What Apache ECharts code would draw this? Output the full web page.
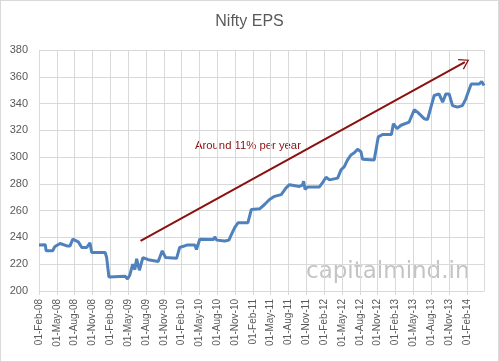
<!DOCTYPE html>
<html>
<head>
<meta charset="utf-8">
<script src="https://cdn.jsdelivr.net/npm/echarts@6/dist/echarts.min.js"></script>
<style>
  html, body { margin: 0; padding: 0; background: #fff; }
  #chart { width: 499px; height: 362px; box-sizing: border-box; border: 1px solid #d9d9d9; }
</style>
</head>
<body>
<div id="chart"></div>
<script>
// ---- data ----
const dates = [
  '2008-02-01','2008-03-03','2008-03-07','2008-04-10','2008-04-20','2008-05-18','2008-06-22','2008-07-08',
  '2008-07-22','2008-08-20','2008-09-07','2008-10-02','2008-10-19','2008-10-28','2009-01-05','2009-01-13',
  '2009-01-25','2009-04-16','2009-04-28','2009-05-10','2009-05-25','2009-06-05','2009-06-14','2009-06-28',
  '2009-07-16','2009-08-13','2009-10-03','2009-10-12','2009-10-24','2009-11-10','2010-01-06','2010-01-22',
  '2010-02-26','2010-04-08','2010-04-16','2010-05-03','2010-07-13','2010-07-19','2010-07-29','2010-09-09',
  '2010-09-30','2010-10-09','2010-10-30','2010-11-16','2011-01-06','2011-01-24','2011-03-05','2011-03-31',
  '2011-04-25','2011-05-21','2011-06-24','2011-07-19','2011-08-06','2011-09-26','2011-10-11','2011-10-18',
  '2011-10-25','2011-11-08','2012-01-07','2012-01-24','2012-02-10','2012-02-27','2012-04-09','2012-04-26',
  '2012-05-13','2012-05-30','2012-06-16','2012-07-03','2012-07-20','2012-08-07','2012-08-15','2012-10-14',
  '2012-10-23','2012-11-04','2012-11-26','2013-01-11','2013-01-21','2013-02-08','2013-02-14','2013-02-27',
  '2013-03-07','2013-04-10','2013-05-06','2013-05-23','2013-06-26','2013-07-13','2013-07-31','2013-08-17',
  '2013-09-11','2013-09-29','2013-10-16','2013-11-02','2013-11-19','2013-12-14','2014-01-09','2014-01-27',
  '2014-02-13','2014-02-22','2014-04-04','2014-04-16','2014-04-28'
];
const eps = [
  234.3,234.5,230.0,230.0,233.0,235.5,233.7,233.7,
  238.7,236.7,232.5,232.5,236.0,228.8,228.8,225.0,
  210.4,211.0,209.0,212.0,220.0,216.0,224.0,215.5,
  225.0,223.4,222.0,222.0,230.0,225.0,224.4,232.5,
  234.3,234.3,231.0,238.7,238.5,240.5,238.0,237.4,
  238.0,241.0,247.3,251.0,251.0,260.9,261.4,264.6,
  268.3,270.7,272.0,277.0,279.4,278.1,279.0,282.0,
  276.0,277.7,277.7,281.0,285.0,283.0,284.3,290.5,
  292.9,297.9,301.6,303.3,305.8,304.0,298.4,297.9,
  305.3,315.1,316.9,316.9,325.0,321.3,320.0,323.8,
  322.5,326.2,335.4,333.6,328.7,328.0,337.3,346.0,
  347.2,341.0,347.2,347.2,338.5,337.3,338.5,343.5,
  350.9,354.6,354.6,356.5,353.4
];
const yTicks = { min: 200, max: 380, step: 20 };
const monthNames = ['Jan','Feb','Mar','Apr','May','Jun','Jul','Aug','Sep','Oct','Nov','Dec'];
const arrowFrom = ['2009-07-04', 237.4];
const arrowTo = ['2014-01-22', 371.0];
const annotationText = 'Around 11% per year';
const titleText = 'Nifty EPS';
const watermarkText = 'capitalmind.in';

// months since 01-Feb-2008 (fractional)
function toMonthIndex(s) {
  const [y, m, d] = s.split('-').map(Number);
  const dim = new Date(y, m, 0).getDate();
  return (y - 2008) * 12 + (m - 2) + (d - 1) / dim;
}
function monthLabel(v) {
  const idx = Math.round(v);
  const abs = idx + 1; // months since Jan 2008
  const year = 2008 + Math.floor(abs / 12);
  const mon = abs % 12;
  return '01-' + monthNames[mon] + '-' + String(year % 100).padStart(2, '0');
}

const seriesData = dates.map((d, i) => [toMonthIndex(d), eps[i]]);
const xMax = toMonthIndex(dates[dates.length - 1]);

const chart = echarts.init(document.getElementById('chart'), null, { renderer: 'canvas' });
const gridCol = '#d9d9d9';
const txtCol = '#595959';
const font = 'Liberation Sans, Arial, sans-serif';

chart.setOption({
  animation: false,
  title: {
    text: titleText, left: 'center', top: 8,
    textStyle: { fontFamily: font, fontSize: 16, fontWeight: 'normal', color: txtCol }
  },
  grid: { left: 38, right: 14, top: 49, bottom: 70, containLabel: false },
  xAxis: {
    type: 'value', min: 0, max: xMax, interval: 3,
    axisLine: { show: true, lineStyle: { color: gridCol } },
    axisTick: { show: true, length: 4, lineStyle: { color: gridCol } },
    splitLine: { show: true, lineStyle: { color: gridCol, width: 1 } },
    axisLabel: {
      rotate: 90, margin: 8, showMaxLabel: false,
      fontFamily: font, fontSize: 10, color: txtCol,
      formatter: monthLabel
    }
  },
  yAxis: {
    type: 'value', min: yTicks.min, max: yTicks.max, interval: yTicks.step,
    axisLine: { show: false }, axisTick: { show: false },
    splitLine: { show: true, lineStyle: { color: gridCol, width: 1 } },
    axisLabel: { fontFamily: font, fontSize: 11, color: txtCol, margin: 11 }
  },
  graphic: [
    {
      type: 'text', left: 194, top: 139, silent: true,
      style: { text: annotationText, fontFamily: font, fontSize: 11.3, fill: '#8b1010' }
    },
    {
      type: 'text', left: 305, top: 260, silent: true, z: -1,
      style: { text: watermarkText, fontFamily: 'DejaVu Sans, sans-serif', fontSize: 23, fill: '#c4c4c4' }
    }
  ],
  series: [{
    type: 'line',
    data: seriesData,
    showSymbol: false,
    lineStyle: { color: '#4f81bd', width: 3 },
    itemStyle: { color: '#4f81bd' },
    z: 3,
    markLine: {
      silent: true,
      symbol: ['none', 'path://M0,0 L10,14 L8.2,15 L0,3.4 L-8.2,15 L-10,14 Z'],
      symbolSize: [12, 10],
      label: { show: false },
      lineStyle: { color: '#8b1010', width: 2, type: 'solid' },
      data: [[
        { coord: [toMonthIndex(arrowFrom[0]), arrowFrom[1]] },
        { coord: [toMonthIndex(arrowTo[0]), arrowTo[1]] }
      ]]
    }
  }]
});
</script>
</body>
</html>
